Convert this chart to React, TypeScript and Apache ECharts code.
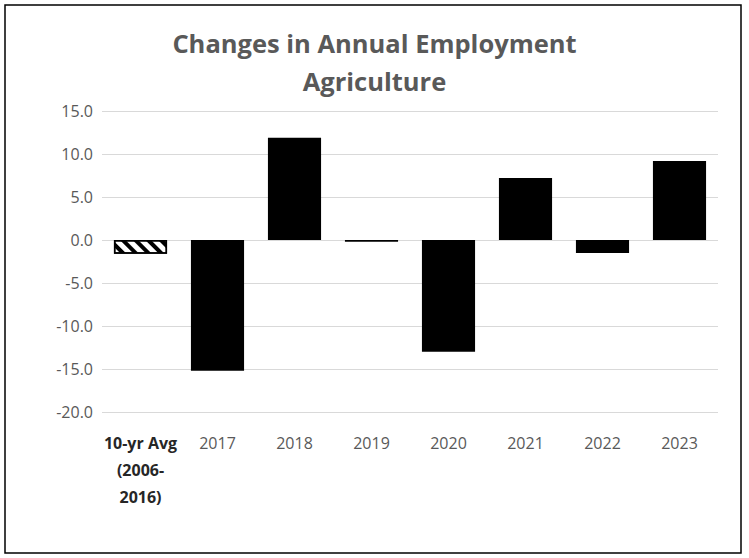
import React, { useEffect, useRef } from "react";
import * as echarts from "echarts";

const categories = ["10-yr Avg\n(2006-\n2016)", "2017", "2018", "2019", "2020", "2021", "2022", "2023"];
const values = [-1.6, -15.2, 11.9, -0.2, -13.0, 7.2, -1.5, 9.2];
const yTicks = { min: -20, max: 15, interval: 5 };
const titleLines = ["Changes in Annual Employment", "Agriculture"];

export default function App() {
  const ref = useRef<HTMLDivElement>(null);
  useEffect(() => {
    document.body.style.margin = "0";
    const chart = echarts.init(ref.current!, null, { renderer: "svg" });
    const font = "'Open Sans', sans-serif";
    const data = values.map((v, i) =>
      i === 0
        ? {
            value: v,
            itemStyle: {
              color: "#fff",
              borderColor: "#000",
              borderWidth: 1.5,
              decal: {
                symbol: "rect",
                color: "#000",
                backgroundColor: "#fff",
                dashArrayX: [1, 0],
                dashArrayY: [4, 5],
                rotation: Math.PI / 4,
              },
            },
          }
        : { value: v, itemStyle: { color: "#000" } }
    );
    chart.setOption({
      animation: false,
      backgroundColor: "#fff",
      title: {
        text: titleLines.join("\n"),
        left: "center",
        top: 19,
        textStyle: {
          fontFamily: font,
          fontWeight: "bold",
          fontSize: 25.5,
          color: "#595959",
          lineHeight: 38,
        },
      },
      graphic: [
        {
          type: "rect",
          shape: { x: 5, y: 5, width: 736, height: 548 },
          style: { fill: "none", stroke: "#000", lineWidth: 1.5 },
          z: 100,
        },
      ],
      grid: { left: 102, right: 31, top: 111, bottom: 146 },
      xAxis: {
        type: "category",
        data: categories,
        position: "bottom",
        axisLine: { show: false, onZero: false },
        axisTick: { show: false },
        axisLabel: {
          margin: 17,
          interval: 0,
          fontFamily: font,
          fontSize: 16,
          lineHeight: 27,
          color: "#595959",
          formatter: (v: string, i: number) => (i === 0 ? "{b|" + v + "}" : v),
          rich: {
            b: {
              fontFamily: font,
              fontSize: 16,
              fontWeight: "bold",
              color: "#262626",
              lineHeight: 27,
            },
          },
        },
      },
      yAxis: {
        type: "value",
        min: yTicks.min,
        max: yTicks.max,
        interval: yTicks.interval,
        axisLine: { show: false },
        axisTick: { show: false },
        splitLine: { lineStyle: { color: "#d9d9d9", width: 1 } },
        axisLabel: {
          margin: 9,
          fontFamily: font,
          fontSize: 16,
          color: "#595959",
          formatter: (v: number) => v.toFixed(1),
        },
      },
      series: [
        {
          type: "bar",
          data,
          barWidth: "69%",
        },
      ],
    });
    return () => chart.dispose();
  }, []);
  return <div ref={ref} style={{ width: 749, height: 558 }} />;
}
